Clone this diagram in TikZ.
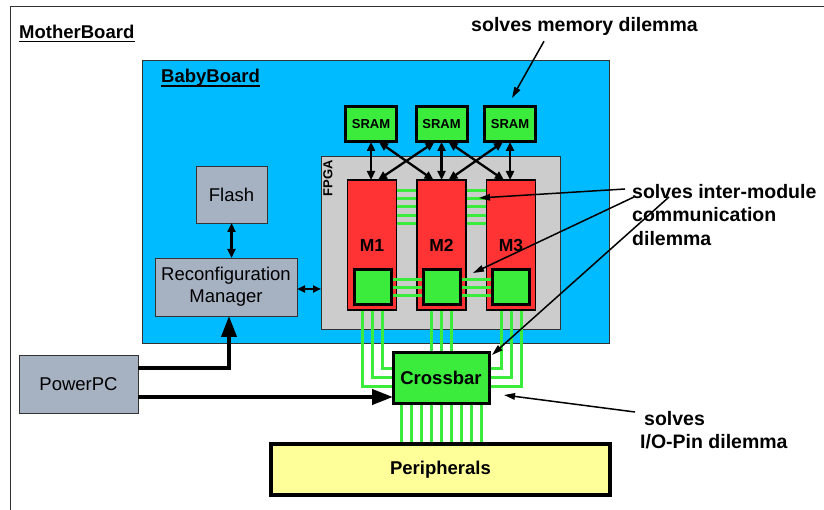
\documentclass[tikz,border=0pt]{standalone}
\usepackage{fontspec}
\setmainfont{Liberation Sans}
\usetikzlibrary{arrows.meta,calc}
\definecolor{bbblue}{RGB}{0,187,255}
\definecolor{fpgagray}{RGB}{204,204,204}
\definecolor{mred}{RGB}{255,51,51}
\definecolor{lgreen}{RGB}{60,236,60}
\definecolor{slate}{RGB}{166,177,194}
\definecolor{pyellow}{RGB}{255,255,153}
\definecolor{edgegray}{RGB}{50,50,50}
\tikzset{
  basebox/.style={rectangle, inner sep=0pt, outer sep=0pt},
  board/.style={basebox, draw=edgegray, line width=0.9pt},
  graybox/.style={basebox, draw=edgegray, line width=0.9pt, fill=slate,
    font=\fontsize{18.5}{22}\selectfont, align=center},
  modbox/.style={basebox, draw=black, line width=1.2pt, fill=mred,
    minimum width=49pt, minimum height=130pt,
    font=\fontsize{17.5}{20}\selectfont\bfseries},
  sqbox/.style={basebox, draw=black, line width=3pt, fill=lgreen,
    minimum width=37pt, minimum height=35pt},
  srambox/.style={basebox, draw=black, line width=3pt, fill=lgreen,
    minimum width=51pt, minimum height=35pt,
    font=\fontsize{13}{15}\selectfont\bfseries},
  greenline/.style={draw=lgreen, line width=3pt},
  memarrow/.style={line width=2.3pt,
    {Triangle[length=9pt,width=8pt]}-{Triangle[length=9pt,width=8pt]}},
  bigarrow/.style={line width=4pt, -{Triangle[length=21pt,width=15pt]}},
  annarrow/.style={line width=1.5pt, -{Triangle[length=11pt,width=6.5pt]}},
  ann/.style={inner sep=0pt, font=\fontsize{19.5}{23.5}\selectfont\bfseries, align=left},
  title/.style={inner sep=0pt, font=\fontsize{18.5}{22}\selectfont\bfseries},
  ulinestyle/.style={line width=1.3pt},
}
\begin{document}
\begin{tikzpicture}[x=1pt,y=-1pt]
\useasboundingbox (0,0) rectangle (824,510);
\fill[white] (0,0) rectangle (824,510);

% MotherBoard frame
\coordinate (mbbl) at (10,510);
\coordinate (mbtl) at (10,7);
\coordinate (mbtr) at (824,7);
\draw[edgegray, line width=1pt] (mbbl) -- (mbtl) -- (mbtr);
\node[title, anchor=base west] (mblabel) at (19,39) {MotherBoard};
\draw[ulinestyle] ([yshift=-2.7pt]mblabel.base west) -- ([yshift=-2.7pt]mblabel.base east);

% BabyBoard
\node[board, fill=bbblue, minimum width=467pt, minimum height=283pt] (bb) at (375.5,201.5) {};
\node[title, anchor=base west] (bblabel) at (161,83) {BabyBoard};
\draw[ulinestyle] ([yshift=-3pt]bblabel.base west) -- ([yshift=-3pt]bblabel.base east);

% FPGA
\node[board, fill=fpgagray, minimum width=239pt, minimum height=173pt] (fpga) at (440.5,242.5) {};
\node[inner sep=0pt, rotate=90, font=\fontsize{13}{15}\selectfont\bfseries] (fpgalabel) at (328,178) {FPGA};

% modules
\node[modbox] (m1) at (372,245) {M1};
\node[modbox] (m2) at (441.5,245) {M2};
\node[modbox] (m3) at (511,245) {M3};
\node[sqbox] (sq1) at (372.5,287.5) {};
\node[sqbox] (sq2) at (442,287.5) {};
\node[sqbox] (sq3) at (511,287.5) {};

% SRAMs
\node[srambox] (s1) at (371,124.5) {SRAM};
\node[srambox] (s2) at (441.5,124.5) {SRAM};
\node[srambox] (s3) at (510,124.5) {SRAM};

% other boxes
\node[graybox, minimum width=71pt, minimum height=57pt] (flash) at (231.5,194.5) {Flash};
\node[graybox, minimum width=142pt, minimum height=58pt] (reconf) at (226,287) {Reconfiguration\\Manager};
\node[graybox, minimum width=119pt, minimum height=58pt] (ppc) at (78.5,384) {PowerPC};
\node[basebox, draw=black, line width=3pt, fill=lgreen, minimum width=96pt, minimum height=51pt,
  font=\fontsize{18.5}{22}\selectfont\bfseries] (cb) at (441,377.5) {Crossbar};
\node[basebox, draw=black, line width=3.5pt, fill=pyellow, minimum width=339pt, minimum height=51pt,
  font=\fontsize{18.5}{22}\selectfont\bfseries] (per) at (440.5,469.5) {Peripherals};

% green links between modules (upper)
\foreach \d in {54,46,38,29,21} {
  \draw[greenline, shorten <=0.6pt, shorten >=0.6pt] ([yshift=\d pt]m1.east) -- ([yshift=\d pt]m2.west);
  \draw[greenline, shorten <=0.6pt, shorten >=0.6pt] ([yshift=\d pt]m2.east) -- ([yshift=\d pt]m3.west);
}
% green links between squares (lower)
\foreach \d in {8,0,-8} {
  \draw[greenline, shorten <=1.5pt, shorten >=1.5pt] ([yshift=\d pt]sq1.east) -- ([yshift=\d pt]sq2.west);
  \draw[greenline, shorten <=1.5pt, shorten >=1.5pt] ([yshift=\d pt]sq2.east) -- ([yshift=\d pt]sq3.west);
}
% modules to crossbar
\foreach \dx/\dy in {-10/-9,0/0,10/9} {
  \draw[greenline, shorten <=0.6pt, shorten >=1.5pt] ([xshift=\dx pt]m1.south) |- ([yshift=\dy pt]cb.west);
}
\foreach \dx in {-10,0,10} {
  \draw[greenline, shorten <=0.6pt, shorten >=1.5pt] ([xshift=\dx pt]m2.south) -- ([xshift=\dx pt]m2.south |- cb.north);
}
\foreach \dx/\dy in {-10/9,0/0,10/-9} {
  \draw[greenline, shorten <=0.6pt, shorten >=1.5pt] ([xshift=\dx pt]m3.south) |- ([yshift=\dy pt]cb.east);
}
% crossbar to peripherals
\foreach \dx in {-40,-30,...,40} {
  \draw[greenline, shorten <=1.5pt, shorten >=1.75pt] ([xshift=\dx pt]cb.south) -- ([xshift=\dx pt]cb.south |- per.north);
}

% SRAM to module arrows
\draw[memarrow] (s1.south) -- (s1.south |- m1.north);
\draw[memarrow] (s2.south) -- (s2.south |- m2.north);
\draw[memarrow] (s3.south) -- (s3.south |- m3.north);
\draw[memarrow] ([xshift=8pt]s1.south) -- ([xshift=-8pt]m2.north);
\draw[memarrow] ([xshift=-7pt]s2.south) -- ([xshift=6pt]m1.north);
\draw[memarrow] ([xshift=7pt]s2.south) -- ([xshift=-7pt]m3.north);
\draw[memarrow] ([xshift=-7pt]s3.south) -- ([xshift=7pt]m2.north);

% flash / reconf / fpga
\draw[memarrow] (flash.south) -- (flash.south |- reconf.north);
\draw[line width=2pt, {Triangle[length=8pt,width=7pt]}-{Triangle[length=8pt,width=7pt]}]
  ([yshift=-2pt]reconf.east) -- ([yshift=-2pt]reconf.east -| fpga.west);

% PowerPC arrows
\draw[bigarrow] ([yshift=16pt]ppc.east) -| ([xshift=3pt]reconf.south);
\draw[bigarrow] ([yshift=-13pt]ppc.east) -- ([yshift=-13pt]ppc.east -| cb.west);

% annotations
\node[ann, anchor=base] (memtxt) at (584.5,32) {solves memory dilemma};
\coordinate (memtip) at (512,98);
\draw[annarrow] ([xshift=-40.5pt,yshift=-5pt]memtxt.south) -- (memtip);

\node[ann, anchor=north west] (commtxt) at (632,184) {solves inter-module\\communication\\dilemma};
\coordinate (commtipa) at (479,198);
\coordinate (commtipb) at (473,273);
\coordinate (commtipc) at (492,355);
\draw[annarrow] ([xshift=-7pt,yshift=-5pt]commtxt.north west) -- (commtipa);
\draw[annarrow] ([xshift=2pt,yshift=-13pt]commtxt.north west) -- (commtipb);
\draw[annarrow] ([xshift=37pt,yshift=-13pt]commtxt.north west) -- (commtipc);

\node[ann, anchor=north west] (iotxt) at (640,411) {\hspace*{4pt}solves\\I/O-Pin dilemma};
\coordinate (iotip) at (504,395);
\draw[annarrow] ([xshift=-5pt,yshift=-1pt]iotxt.north west) -- (iotip);
\end{tikzpicture}
\end{document}
